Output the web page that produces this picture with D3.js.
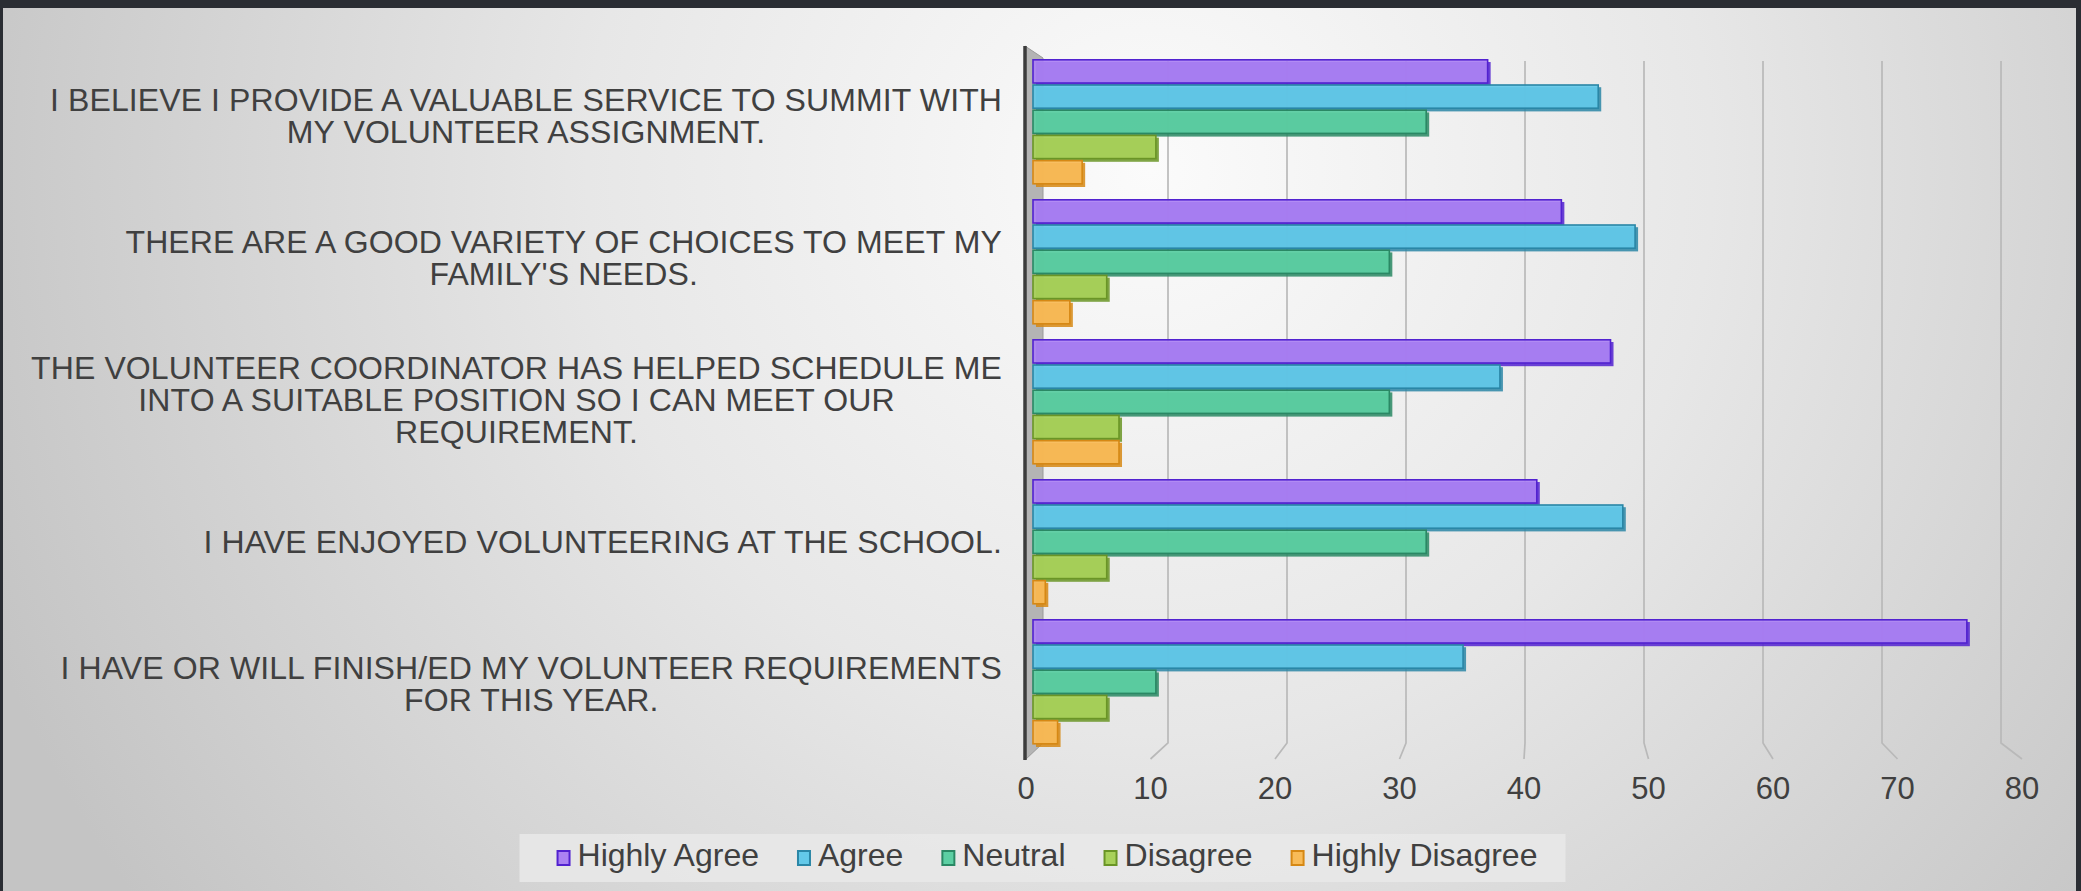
<!DOCTYPE html>
<html>
<head>
<meta charset="utf-8">
<script src="https://cdn.jsdelivr.net/npm/d3@7"></script>
<style>
  html, body { margin: 0; padding: 0; background: #2a2d33; overflow: hidden; }
</style>
</head>
<body>
<script>
// survey statements, top to bottom ("\n" = line break as in the original)
const categories = [
  "I BELIEVE I PROVIDE A VALUABLE SERVICE TO SUMMIT WITH\nMY VOLUNTEER ASSIGNMENT.",
  "THERE ARE A GOOD VARIETY OF CHOICES TO MEET MY\nFAMILY'S NEEDS.",
  "THE VOLUNTEER COORDINATOR HAS HELPED SCHEDULE ME\nINTO A SUITABLE POSITION SO I CAN MEET OUR\nREQUIREMENT.",
  "I HAVE ENJOYED VOLUNTEERING AT THE SCHOOL.",
  "I HAVE OR WILL FINISH/ED MY VOLUNTEER REQUIREMENTS\nFOR THIS YEAR."
];
const seriesNames = ["Highly Agree", "Agree", "Neutral", "Disagree", "Highly Disagree"];
const highlyAgree = [37, 43, 47, 41, 76];
const agree = [46, 49, 38, 48, 35];
const neutral = [32, 29, 29, 32, 10];
const disagree = [10, 6, 7, 6, 6];
const highlyDisagree = [4, 3, 7, 1, 2];
const xTicks = [0, 10, 20, 30, 40, 50, 60, 70, 80];

const seriesValues = [highlyAgree, agree, neutral, disagree, highlyDisagree];
// fill / edge colour per series
const fills = ["#ab82f3", "#63c9e9", "#5ccfa3", "#a8d15a", "#f8bb58"];
const edges = ["#5222d0", "#2a86a6", "#2a8864", "#6a9526", "#d68814"];

const width = 2081, height = 891;
const font = "'Liberation Sans', Arial, Helvetica, sans-serif";
const textColor = "#404040";

const svg = d3.select("body").append("svg")
  .attr("width", width)
  .attr("height", height)
  .attr("xmlns", "http://www.w3.org/2000/svg");

// background panel gradient
const defs = svg.append("defs");
const grad = defs.append("radialGradient")
  .attr("id", "bg")
  .attr("gradientUnits", "userSpaceOnUse")
  .attr("cx", 1150).attr("cy", 170).attr("r", 1250);
grad.append("stop").attr("offset", 0).attr("stop-color", "#fbfbfb");
grad.append("stop").attr("offset", 0.45).attr("stop-color", "#e7e7e7");
grad.append("stop").attr("offset", 1).attr("stop-color", "#c4c4c4");

svg.append("rect").attr("width", width).attr("height", height).attr("fill", "#2a2d33");
svg.append("rect")
  .attr("x", 3).attr("y", 8)
  .attr("width", width - 8).attr("height", height - 8)
  .attr("fill", "url(#bg)");

// 3d chart: back wall plane, bar plane, front floor edge
const xBack = d3.scaleLinear().domain([0, 80]).range([1049, 2001]);
const xBar = d3.scaleLinear().domain([0, 80]).range([1033, 2016]);
const xFront = d3.scaleLinear().domain([0, 80]).range([1026, 2022]);

const y = d3.scaleBand()
  .domain(categories)
  .range([52, 752])
  .paddingInner(0.1)
  .paddingOuter(0.05);
const ySeries = d3.scaleBand()
  .domain(seriesNames)
  .range([0, y.bandwidth()]);
const yLabel = d3.scalePoint().domain(categories).range([116, 684]);

const gridTop = 61, gridBend = 743, gridBottom = 759;

// gridlines (back wall, bending onto the floor)
svg.append("g").selectAll("path")
  .data(xTicks.filter(d => d > 0))
  .enter()
  .append("path")
  .attr("d", d => `M${xBack(d)},${gridTop}V${gridBend}L${xFront(d)},${gridBottom}`)
  .attr("fill", "none")
  .attr("stroke", "#b9b9b9")
  .attr("stroke-width", 1.7);

// side wall
const wallX0 = xFront(0) - 1, wallX1 = xBack(0) - 6;
svg.append("path")
  .attr("d", `M${wallX0},46L${wallX1},58L${wallX1},${gridBend}L${wallX0},${gridBottom + 1}Z`)
  .attr("fill", "#b4b4b4")
  .attr("stroke", "#9a9a9a")
  .attr("stroke-width", 1);
svg.append("line")
  .attr("x1", wallX0).attr("x2", wallX0)
  .attr("y1", 46).attr("y2", gridBottom + 1)
  .attr("stroke", "#3c3c3c")
  .attr("stroke-width", 3.5);

// bars
const rows = [];
categories.forEach((c, i) => {
  seriesNames.forEach((s, j) => {
    rows.push({ cat: c, series: s, idx: j, value: seriesValues[j][i] });
  });
});

const bars = svg.append("g").selectAll("g")
  .data(rows)
  .enter()
  .append("g")
  .attr("transform", d => `translate(0,${y(d.cat) + ySeries(d.series)})`);

const bh = ySeries.bandwidth();
// depth / shadow face
bars.append("rect")
  .attr("x", xBar(0) + 3)
  .attr("y", 3)
  .attr("width", d => xBar(d.value) - xBar(0))
  .attr("height", bh - 1)
  .attr("fill", d => edges[d.idx])
  .attr("fill-opacity", 0.85);
// front face
bars.append("rect")
  .attr("x", xBar(0))
  .attr("y", 0.8)
  .attr("width", d => xBar(d.value) - xBar(0))
  .attr("height", bh - 2)
  .attr("fill", d => fills[d.idx])
  .attr("fill-opacity", 0.92)
  .attr("stroke", d => edges[d.idx])
  .attr("stroke-width", 1.6);

// x tick labels
svg.append("g").selectAll("text")
  .data(xTicks)
  .enter()
  .append("text")
  .attr("x", d => xFront(d))
  .attr("y", 799)
  .attr("text-anchor", "middle")
  .attr("font-family", font)
  .attr("font-size", 31)
  .attr("fill", textColor)
  .text(d => d);

// category labels, lines centered, block right aligned
const labelSize = 32, lineH = 32, capH = 22.6, labelRight = 1002, spacing = 0.1;
const probe = svg.append("text")
  .attr("font-family", font)
  .attr("font-size", labelSize)
  .attr("letter-spacing", spacing);
function measure(t) { probe.text(t); return probe.node().getComputedTextLength(); }

categories.forEach(c => {
  const lines = c.split("\n");
  const blockW = d3.max(lines, measure);
  const cx = labelRight - blockW / 2;
  const first = yLabel(c) - ((lines.length - 1) * lineH + capH) / 2 + capH;
  svg.append("g").selectAll("text")
    .data(lines)
    .enter()
    .append("text")
    .attr("x", cx)
    .attr("y", (d, i) => first + i * lineH)
    .attr("text-anchor", "middle")
    .attr("font-family", font)
    .attr("font-size", labelSize)
    .attr("letter-spacing", spacing)
    .attr("fill", textColor)
    .text(d => d);
});
probe.remove();

// legend
const legendSize = 32;
const lprobe = svg.append("text").attr("font-family", font).attr("font-size", legendSize);
const legend = svg.append("g");
const legendBox = legend.append("rect")
  .attr("y", 834).attr("height", 48)
  .attr("fill", "#e9e9e9")
  .attr("fill-opacity", 0.85);
let lx = 0;
const items = [];
seriesNames.forEach((s, j) => {
  lprobe.text(s);
  const w = lprobe.node().getComputedTextLength();
  items.push({ name: s, idx: j, x: lx, w: w });
  lx += 14 + 7 + w + 38;
});
lprobe.remove();
const legendW = lx - 38;
const legendX0 = 1047 - legendW / 2;
items.forEach(it => {
  legend.append("rect")
    .attr("x", legendX0 + it.x + 1)
    .attr("y", 851)
    .attr("width", 12).attr("height", 14)
    .attr("fill", fills[it.idx])
    .attr("stroke", edges[it.idx])
    .attr("stroke-width", 2);
  legend.append("text")
    .attr("x", legendX0 + it.x + 21)
    .attr("y", 866)
    .attr("font-family", font)
    .attr("font-size", legendSize)
    .attr("fill", textColor)
    .text(it.name);
});
legendBox.attr("x", legendX0 - 37).attr("width", legendW + 37 + 28);
</script>
</body>
</html>
